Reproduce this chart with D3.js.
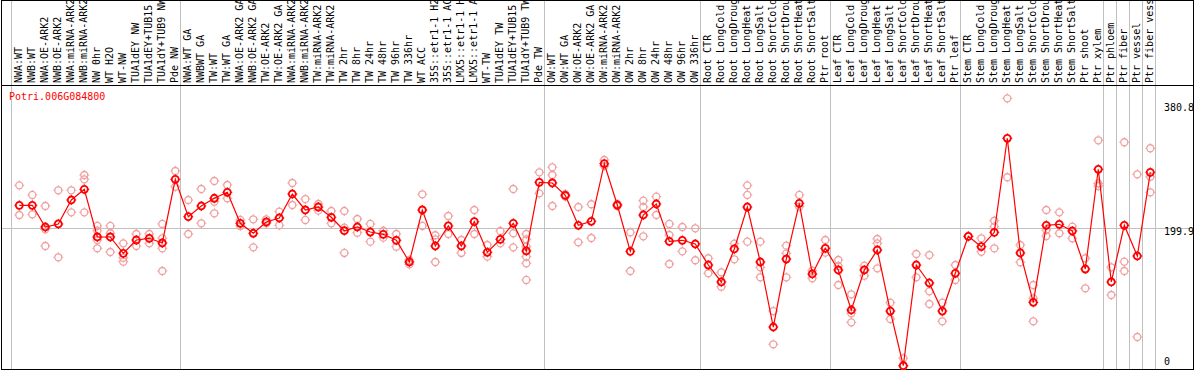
<!DOCTYPE html>
<html>
<head>
<meta charset="utf-8">
<script src="https://cdn.jsdelivr.net/npm/d3@7"></script>
<style>
  body { margin: 0; background: #fff; }
  svg { display: block; }
  text { font-family: "DejaVu Sans Mono", monospace; font-size: 10px; }
</style>
</head>
<body>
<div id="chart"></div>
<script>
width = 1194
height = 370

gene = "Potri.006G084800"

labels = [
  "NWA:WT", "NWB:WT", "NWA:OE-ARK2", "NWB:OE-ARK2", "NWA:miRNA-ARK2", "NWB:miRNA-ARK2", "NW 0hr", "WT H2O", "WT-NW",
  "TUA1dEY NW", "TUA1dEY+TUB15 NW", "TUA1dY+TUB9 NW", "Pde NW",
  "NWA:WT GA", "NWBWT GA", "TW:WT", "TW:WT GA", "NWA:OE-ARK2 GA", "NWB:OE-ARK2 GA", "TW:OE-ARK2", "TW:OE-ARK2 GA",
  "NWA:miRNA-ARK2", "NWB:miRNA-ARK2", "TW:miRNA-ARK2", "TW:miRNA-ARK2", "TW 2hr", "TW 8hr", "TW 24hr", "TW 48hr",
  "TW 96hr", "TW 336hr", "WT ACC", "35S::etr1-1 H2O", "35S::etr1-1 ACC", "LMX5::etr1-1 H2O", "LMX5::etr1-1 ACC",
  "WT-TW", "TUA1dEY TW", "TUA1dEY+TUB15 TW", "TUA1dY+TUB9 TW", "Pde TW",
  "OW:WT", "OW:WT GA", "OW:OE-ARK2", "OW:OE-ARK2 GA", "OW:miRNA-ARK2", "OW:miRNA-ARK2", "OW 2hr", "OW 8hr",
  "OW 24hr", "OW 48hr", "OW 96hr", "OW 336hr",
  "Root CTR", "Root LongCold", "Root LongDrought", "Root LongHeat", "Root LongSalt", "Root ShortCold",
  "Root ShortDrought", "Root ShortHeat", "Root ShortSalt", "Ptr root",
  "Leaf CTR", "Leaf LongCold", "Leaf LongDrought", "Leaf LongHeat", "Leaf LongSalt", "Leaf ShortCold",
  "Leaf ShortDrought", "Leaf ShortHeat", "Leaf ShortSalt", "Ptr leaf",
  "Stem CTR", "Stem LongCold", "Stem LongDrought", "Stem LongHeat", "Stem LongSalt", "Stem ShortCold",
  "Stem ShortDrought", "Stem ShortHeat", "Stem ShortSalt", "Ptr shoot", "Ptr xylem",
  "Ptr phloem", "Ptr fiber", "Ptr vessel", "Ptr fiber vessel"
]

// number of samples in each separated block
groupSizes = [13, 28, 12, 10, 10, 11, 1, 1, 1, 1]

means = [
  233.3, 233.3, 201.8, 206.2, 241.0, 256.5, 187.3, 187.3, 163.6, 182.9, 185.4, 178.6, 271.0,
  216.8, 232.3, 243.5, 252.2, 207.2, 192.7, 209.1, 214.9, 249.7, 226.5, 230.8, 215.9, 196.4, 201.8, 194.5, 191.2,
  182.5, 151.0, 226.5, 174.2, 203.3, 174.2, 209.5, 165.1, 183.9, 207.2, 167.0, 266.7,
  265.7, 247.8, 204.3, 210.1, 293.7, 233.7, 166.5, 219.2, 235.2, 181.0, 182.5, 177.1,
  146.6, 122.0, 169.9, 230.8, 151.0, 56.6, 155.3, 236.2, 133.6, 170.9,
  139.4, 81.3, 139.4, 168.4, 79.8, 0.4, 146.6, 120.5, 79.8, 134.6,
  188.3, 173.2, 194.1, 330.6, 164.1, 92.5, 204.3, 205.7, 196.0, 140.8, 285.6,
  122.0, 204.3, 159.7, 281.2
]

replicates = [
  [262.3, 219.2], [248.3, 220.2], [232.3, 198.5, 174.2], [255.1, 157.8], [255.1, 223.1],
  [277.3, 271.0, 223.1], [203.3, 196.4, 182.9, 170.9], [203.3, 192.7, 165.5], [178.1, 157.2, 151.4],
  [191.6, 174.2], [191.6, 178.1], [206.2, 185.4, 170.9, 137.9], [283.1, 260.3],
  [241.0, 191.6], [257.0, 207.2], [268.6, 238.5, 221.7], [262.8, 243.5], [212.0, 203.3], [213.0, 172.3],
  [213.0, 207.2], [224.0, 204.3], [265.7, 233.7], [242.4, 212.0], [235.2, 225.5], [225.0, 207.2],
  [225.0, 200.8, 164.1], [213.4, 193.5], [206.2, 180.5], [196.4, 186.3], [191.6, 173.2], [153.9, 147.6],
  [249.3, 203.3], [189.8, 183.9, 151.0], [217.8, 191.6], [182.9, 164.1], [226.5, 191.6], [175.7, 158.7],
  [196.0, 178.1], [257.0, 192.7, 172.3], [191.6, 183.9, 173.2, 158.7, 149.1, 124.9], [281.2, 250.7],
  [288.5, 277.3, 232.3], [249.5, 246.0], [230.8, 179.6], [234.8, 185.8], [299.1, 290.4], [235.2, 232.3],
  [194.1, 137.9], [240.0, 230.8, 188.3], [245.8, 219.2], [206.2, 190.2, 148.1], [201.8, 166.5], [199.9, 153.5],
  [156.4, 134.6], [136.0, 115.1], [177.6, 154.9], [262.3, 248.3, 180.5], [180.5, 143.3, 128.8], [79.8, 31.5],
  [174.7, 163.6, 128.8], [248.3, 231.3], [138.4, 127.3], [182.9, 164.5],
  [153.9, 145.2, 117.6], [104.1, 76.5, 63.4], [145.6, 131.1], [184.4, 178.1, 141.8], [91.9, 68.2],
  [11.2, 0.0], [162.6, 128.8], [161.1, 108.4, 90.0], [91.9, 64.9], [146.6, 124.9],
  [188.0, 188.6], [185.4, 165.9], [210.9, 202.2, 170.9], [388.6, 274.0], [175.7, 150.6], [117.6, 98.3, 64.9],
  [226.5, 197.4, 188.7], [223.1, 192.7], [202.2, 185.4], [156.4, 112.8], [327.7, 265.2, 261.3],
  [143.3, 103.1], [324.8, 151.4, 137.9], [278.3, 42.1], [316.1, 274.8, 252.2]
]

yTicks = [380.8, 199.9, 0]
gridValue = 199.9

x = d3.scaleLinear([0, labels.length - 1], [19.3, 19.3 + 13 * (labels.length - 1)])
y = d3.scaleLinear([0, 380.8], [366, 103.7])

const svg = d3.select("#chart").append("svg")
    .attr("width", width)
    .attr("height", height)
    .attr("shape-rendering", "crispEdges")

// vertical separators between sample blocks
let starts = []
let acc = 0
groupSizes.forEach(n => { starts.push(acc); acc += n })
let sepX = starts.map(s => Math.round(x(s) - 8) + 0.5)
sepX.push(Math.round(x(labels.length - 1) + 5) + 0.5)

svg.append("g")
    .attr("stroke", "#c0c0c0")
    .selectAll("line")
    .data(sepX)
    .join("line")
    .attr("x1", d => d).attr("x2", d => d)
    .attr("y1", 0).attr("y2", height)

// horizontal line at the average
svg.append("line")
    .attr("x1", 1).attr("x2", width - 1)
    .attr("y1", Math.round(y(gridValue)) + 0.5)
    .attr("y2", Math.round(y(gridValue)) + 0.5)
    .attr("stroke", "#c0c0c0")

// frame
const frame = svg.append("g").attr("stroke", "#000").attr("fill", "none")
frame.append("rect").attr("x", 1.5).attr("y", 0.5).attr("width", width - 2).attr("height", height - 1.5)
frame.append("line").attr("x1", 1).attr("x2", width).attr("y1", 85.5).attr("y2", 85.5)

// rotated sample labels
svg.append("g")
    .selectAll("text")
    .data(labels)
    .join("text")
    .attr("transform", (d, i) => `translate(${x(i) + 3},83) rotate(-90)`)
    .attr("fill", "#000")
    .text(d => d)

// y labels on the right
svg.append("g")
    .selectAll("text")
    .data(yTicks)
    .join("text")
    .attr("x", 1164)
    .attr("y", d => d === 0 ? y(d) - 1 : y(d) + 7)
    .attr("fill", "#000")
    .text(d => d)

svg.append("text")
    .attr("x", 9)
    .attr("y", 100)
    .attr("fill", "#ff0000")
    .text(gene)

function marker(g, color, sw) {
    g.append("circle").attr("r", 3.5).attr("fill", "none").attr("stroke", color).attr("stroke-width", sw)
    g.append("path")
        .attr("d", "M0,-5V-3.5M0,3.5V5M-5,0H-3.5M3.5,0H5")
        .attr("stroke", color).attr("stroke-width", 1)
}

const plot = svg.append("g").attr("shape-rendering", "auto")

// replicate points
replicates.forEach((reps, i) => {
    plot.append("g")
        .selectAll("g")
        .data(reps)
        .join("g")
        .attr("transform", d => `translate(${x(i)},${y(d)})`)
        .each(function () { marker(d3.select(this), "#f0a0a0", 1.3) })
})

// mean line
plot.append("path")
    .datum(means)
    .attr("fill", "none")
    .attr("stroke", "#ff0000")
    .attr("stroke-width", 1.2)
    .attr("d", d3.line().x((d, i) => x(i)).y(d => y(d)))

plot.append("g")
    .selectAll("g")
    .data(means)
    .join("g")
    .attr("transform", (d, i) => `translate(${x(i)},${y(d)})`)
    .each(function () { marker(d3.select(this), "#ff0000", 1.8) })
</script>
</body>
</html>
